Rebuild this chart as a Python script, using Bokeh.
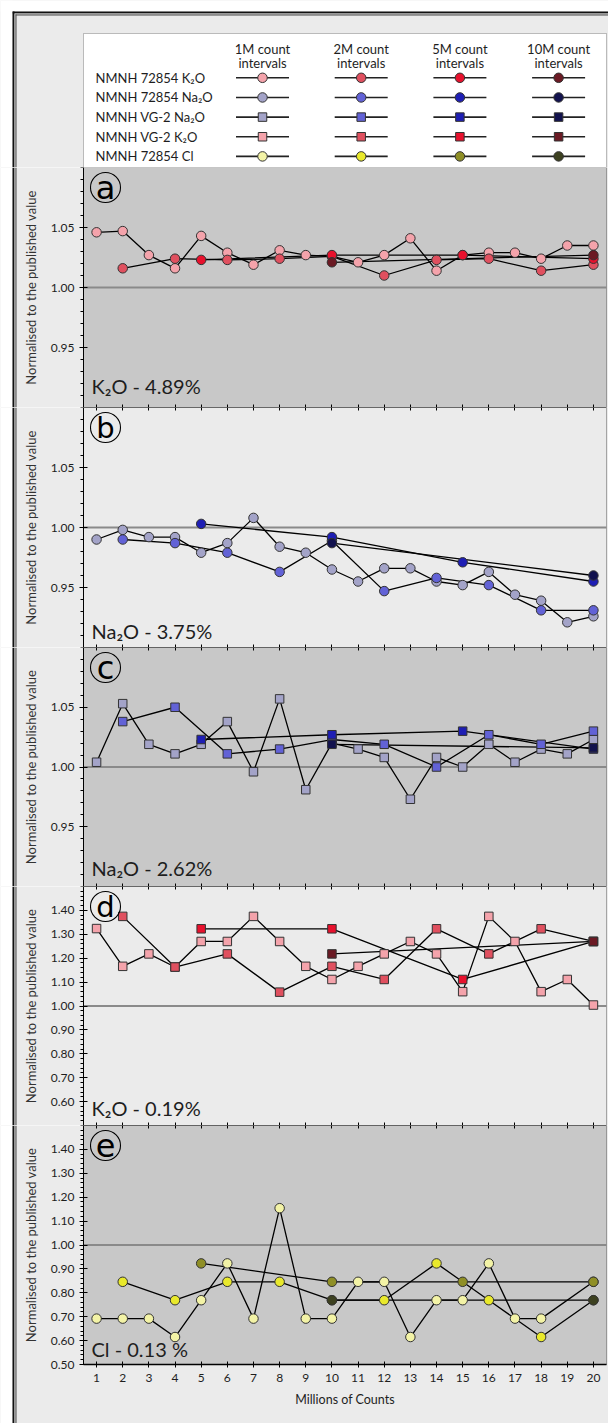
from bokeh.plotting import figure
from bokeh.layouts import column
from bokeh.models import Range1d, LinearAxis, FixedTicker, BoxAnnotation, PrintfTickFormatter
from bokeh.core.properties import value
from bokeh.embed import file_html
from bokeh.resources import INLINE

FONT = "Lato"
LETTER_FONT = "DejaVu Sans"
TXT = "#1e1e1e"

# ------------------------------------------------------------------ data
interval_names = ["1M count", "2M count", "5M count", "10M count"]
interval_sub = ["intervals", "intervals", "intervals", "intervals"]
legend_rows = ["NMNH 72854 K\u2082O", "NMNH 72854 Na\u2082O", "NMNH VG-2 Na\u2082O",
               "NMNH VG-2 K\u2082O", "NMNH 72854 Cl"]

x_1m = [1, 2, 3, 4, 5, 6, 7, 8, 9, 10, 11, 12, 13, 14, 15, 16, 17, 18, 19, 20]
x_2m = [2, 4, 6, 8, 10, 12, 14, 16, 18, 20]
x_5m = [5, 10, 15, 20]
x_10m = [10, 20]
x_1m_cl = [1, 2, 3, 4, 5, 6, 7, 8, 9, 10, 11, 12, 13, 14, 15, 16, 17, 18, 20]

# (a) NMNH 72854 K2O
a_1m = [1.046, 1.047, 1.027, 1.016, 1.043, 1.029, 1.019, 1.031, 1.027, 1.026,
        1.021, 1.027, 1.041, 1.014, 1.027, 1.029, 1.029, 1.024, 1.035, 1.035]
a_2m = [1.016, 1.024, 1.023, 1.024, 1.026, 1.010, 1.023, 1.024, 1.014, 1.019]
a_5m = [1.023, 1.027, 1.027, 1.024]
a_10m = [1.021, 1.027]

# (b) NMNH 72854 Na2O
b_1m = [0.990, 0.998, 0.992, 0.992, 0.979, 0.987, 1.008, 0.984, 0.979, 0.965,
        0.955, 0.966, 0.966, 0.955, 0.952, 0.963, 0.944, 0.939, 0.921, 0.926]
b_2m = [0.990, 0.987, 0.979, 0.963, 0.989, 0.947, 0.958, 0.952, 0.931, 0.931]
b_5m = [1.003, 0.992, 0.971, 0.955]
b_10m = [0.987, 0.960]

# (c) NMNH VG-2 Na2O
c_1m = [1.004, 1.053, 1.019, 1.011, 1.019, 1.038, 0.996, 1.057, 0.981, 1.020,
        1.015, 1.008, 0.973, 1.008, 1.000, 1.019, 1.004, 1.015, 1.011, 1.023]
c_2m = [1.038, 1.050, 1.011, 1.015, 1.023, 1.019, 1.000, 1.027, 1.019, 1.030]
c_5m = [1.023, 1.027, 1.030, 1.015]
c_10m = [1.019, 1.016]

# (d) NMNH VG-2 K2O
d_1m = [1.324, 1.166, 1.218, 1.163, 1.270, 1.270, 1.375, 1.270, 1.166, 1.111,
        1.166, 1.218, 1.270, 1.218, 1.060, 1.375, 1.270, 1.060, 1.111, 1.004]
d_2m = [1.375, 1.163, 1.218, 1.058, 1.166, 1.111, 1.323, 1.218, 1.323, 1.270]
d_5m = [1.323, 1.323, 1.111, 1.270]
d_10m = [1.218, 1.270]

# (e) NMNH 72854 Cl
e_1m = [0.692, 0.692, 0.692, 0.615, 0.769, 0.923, 0.692, 1.154, 0.692, 0.692,
        0.846, 0.846, 0.615, 0.769, 0.769, 0.923, 0.692, 0.692, 0.846]
e_2m = [0.846, 0.769, 0.846, 0.846, 0.769, 0.769, 0.923, 0.769, 0.615, 0.769]
e_5m = [0.923, 0.846, 0.846, 0.846]
e_10m = [0.769, 0.769]

panel_letters = ["a", "b", "c", "d", "e"]
panel_notes = ["K\u2082O - 4.89%", "Na\u2082O - 3.75%", "Na\u2082O - 2.62%",
               "K\u2082O - 0.19%", "Cl - 0.13 %"]

x_ticks = [1, 2, 3, 4, 5, 6, 7, 8, 9, 10, 11, 12, 13, 14, 15, 16, 17, 18, 19, 20]
ticks_fine = [0.95, 1.00, 1.05]
minor_fine = [0.90, 0.91, 0.92, 0.93, 0.94, 0.95, 0.96, 0.97, 0.98, 0.99, 1.00,
              1.01, 1.02, 1.03, 1.04, 1.05, 1.06, 1.07, 1.08, 1.09, 1.10]
ticks_d = [0.60, 0.70, 0.80, 0.90, 1.00, 1.10, 1.20, 1.30, 1.40]
ticks_e = [0.50, 0.60, 0.70, 0.80, 0.90, 1.00, 1.10, 1.20, 1.30, 1.40]
minor_coarse = [round(0.50 + 0.02 * i, 2) for i in range(51)]

# colours (1M, 2M, 5M, 10M)
reds = ["#f4a3ab", "#e0505f", "#e8112d", "#6b1a24"]
blues = ["#a3a3c8", "#6262d6", "#1e1eb4", "#12124e"]
yellows = ["#f3f3a6", "#e9e92c", "#8f8f26", "#3d4120"]

legend_palettes = [reds, blues, blues, reds, yellows]
legend_markers = ["circle", "circle", "square", "square", "circle"]

xs_std = [x_1m, x_2m, x_5m, x_10m]
xs_cl = [x_1m_cl, x_2m, x_5m, x_10m]

panels = [
    dict(ys=[a_1m, a_2m, a_5m, a_10m], xs=xs_std, rng=(0.9, 1.1), ticks=ticks_fine,
         minor=minor_fine, bg="#c8c8c8", pal=reds, marker="circle", note_px=16, h=240),
    dict(ys=[b_1m, b_2m, b_5m, b_10m], xs=xs_std, rng=(0.9, 1.1), ticks=ticks_fine,
         minor=minor_fine, bg="#ebebeb", pal=blues, marker="circle", note_px=11, h=240),
    dict(ys=[c_1m, c_2m, c_5m, c_10m], xs=xs_std, rng=(0.9, 1.1), ticks=ticks_fine,
         minor=minor_fine, bg="#c8c8c8", pal=blues, marker="square", note_px=13, h=239),
    dict(ys=[d_1m, d_2m, d_5m, d_10m], xs=xs_std, rng=(0.5, 1.5), ticks=ticks_d,
         minor=minor_coarse, bg="#ebebeb", pal=reds, marker="square", note_px=12, h=239),
    dict(ys=[e_1m, e_2m, e_5m, e_10m], xs=xs_cl, rng=(0.5, 1.5), ticks=ticks_e,
         minor=minor_coarse, bg="#c8c8c8", pal=yellows, marker="circle", note_px=10, h=239),
]

# ------------------------------------------------------------------ layout constants
TOTAL_H = 1423
FIG_W = 608
PLOT_L = 83           # px from figure left to plot area
PLOT_W = 523          # plot area width
X_LO, X_HI = 0.5, 20.5
SX = PLOT_W / (X_HI - X_LO)
X_START = X_LO - PLOT_L / SX
X_END = X_START + FIG_W / SX
LEG_H = 167
PAGE_BG = "#ebebeb"
BLACK = "#111111"
LIGHT = "#b4b4b4"
DARK = "#4a4a4a"
FL = 12               # left frame line position (px)
FT = 11               # top frame line position (px)


def box(p, l, r, b, t, color, level="underlay", line=None):
    p.add_layout(BoxAnnotation(left=l, right=r, bottom=b, top=t, fill_color=color,
                               fill_alpha=1, line_color=line, line_width=1, level=level))


def left_frame(p, px2x, y0, y1, top=None):
    """double border line at the left edge (the top part handled by `top`)"""
    box(p, px2x(0), px2x(FL), y0, y1, "white")
    box(p, px2x(FL), px2x(FL + 2), y0, y1 if top is None else top(FT), BLACK)
    box(p, px2x(FL + 2), px2x(FL + 3), y0, y1 if top is None else top(FT + 2), LIGHT)
    box(p, px2x(FL + 3), px2x(FL + 4), y0, y1 if top is None else top(FT + 3), DARK)


# ---- legend figure (pixel-like coordinates)
leg = figure(width=FIG_W, height=LEG_H, x_range=Range1d(0, FIG_W), y_range=Range1d(0, LEG_H),
             toolbar_location=None, output_backend="svg", x_axis_location=None,
             y_axis_location=None, min_border=0, title=None,
             background_fill_color=PAGE_BG, border_fill_color="white", outline_line_color=None)
leg.grid.visible = False
box(leg, 0, FIG_W, LEG_H - FT, LEG_H, "white")
box(leg, FL, FIG_W, LEG_H - FT - 2, LEG_H - FT, BLACK)
box(leg, FL + 2, FIG_W, LEG_H - FT - 3, LEG_H - FT - 2, LIGHT)
box(leg, FL + 3, FIG_W, LEG_H - FT - 4, LEG_H - FT - 3, DARK)
left_frame(leg, lambda v: v, 0, LEG_H, top=lambda d: LEG_H - d)
box(leg, PLOT_L, PLOT_L + PLOT_W, 0, LEG_H - 33, "white", line="#333333")

col_x = [262 + j * 98.7 for j in range(len(interval_names))]
row_y = [89.7 - i * 19.65 for i in range(len(legend_rows))]

leg.text(x=col_x, y=[119] * 4, text=interval_names, text_font=value(FONT),
         text_font_size="13px", text_align="center", text_baseline="middle", text_color=TXT)
leg.text(x=col_x, y=[105] * 4, text=interval_sub, text_font=value(FONT),
         text_font_size="13px", text_align="center", text_baseline="middle", text_color=TXT)
leg.text(x=[95] * len(legend_rows), y=row_y, text=legend_rows, text_font=value(FONT),
         text_font_size="13px", text_align="left", text_baseline="middle", text_color=TXT)
for i, yy in enumerate(row_y):
    for j, xx in enumerate(col_x):
        leg.segment(x0=[xx - 26.5], y0=[yy], x1=[xx + 26.5], y1=[yy], line_color="#222222",
                    line_width=1.6)
        mk = legend_markers[i]
        leg.scatter(x=[xx], y=[yy], marker=mk, size=9.5 if mk == "circle" else 8.5,
                    fill_color=legend_palettes[i][j], line_color="#333333", line_width=1)

children = [leg]
used_h = LEG_H + sum(s["h"] for s in panels[:-1])

for k, spec in enumerate(panels):
    last = k == len(panels) - 1
    lo, hi = spec["rng"]
    ph = spec["h"]
    fig_h = (TOTAL_H - used_h) if last else ph
    sy = ph / (hi - lo)
    y_start = hi - fig_h / sy
    p = figure(width=FIG_W, height=fig_h, x_range=Range1d(X_START, X_END),
               y_range=Range1d(y_start, hi), x_axis_location=None, y_axis_location=None,
               toolbar_location=None, output_backend="svg", title=None, min_border=0,
               background_fill_color=PAGE_BG, border_fill_color=PAGE_BG,
               outline_line_color=None)
    p.grid.visible = False

    px2x = lambda v: X_START + v / SX
    left_frame(p, px2x, y_start, hi)
    # plot area background + outline
    box(p, X_LO, X_HI, lo, hi, spec["bg"], line="black")

    ya = LinearAxis(fixed_location=X_LO, bounds=(lo, hi),
                    ticker=FixedTicker(ticks=spec["ticks"], minor_ticks=spec["minor"]),
                    formatter=PrintfTickFormatter(format="%.2f"),
                    major_tick_in=4, major_tick_out=4, minor_tick_in=0, minor_tick_out=3,
                    major_tick_line_color="black", minor_tick_line_color="black",
                    axis_line_color="black", major_label_standoff=5,
                    major_label_text_font=FONT, major_label_text_font_size="12px",
                    major_label_text_color=TXT,
                    axis_label="Normalised to the published value",
                    axis_label_text_font=FONT, axis_label_text_font_size="13px",
                    axis_label_text_font_style="normal", axis_label_text_color="#333333",
                    axis_label_standoff=9)
    p.add_layout(ya, "left")

    blank = {t: "" for t in x_ticks}
    if not last:
        xb = LinearAxis(fixed_location=lo, bounds=(X_LO, X_HI),
                        ticker=FixedTicker(ticks=x_ticks, minor_ticks=[]),
                        major_tick_in=3, major_tick_out=0, minor_tick_in=0, minor_tick_out=0,
                        major_label_overrides=blank, axis_line_color="black",
                        major_tick_line_color="black")
    else:
        xb = LinearAxis(fixed_location=lo, bounds=(X_LO, X_HI),
                        ticker=FixedTicker(ticks=x_ticks, minor_ticks=[]),
                        major_tick_in=3, major_tick_out=3, minor_tick_in=0, minor_tick_out=0,
                        axis_line_color="black", axis_line_width=1.5,
                        major_tick_line_color="black",
                        major_label_standoff=6, major_label_text_font=FONT,
                        major_label_text_font_size="12px", major_label_text_color=TXT,
                        axis_label="Millions of Counts", axis_label_text_font=FONT,
                        axis_label_text_font_size="12.5px", axis_label_text_font_style="normal",
                        axis_label_text_color=TXT, axis_label_standoff=7)
    p.add_layout(xb, "below")
    if k > 0:
        xt = LinearAxis(fixed_location=hi, bounds=(X_LO, X_HI),
                        ticker=FixedTicker(ticks=x_ticks, minor_ticks=[]),
                        major_tick_in=3, major_tick_out=0, minor_tick_in=0, minor_tick_out=0,
                        major_label_overrides=blank, axis_line_color="black",
                        major_tick_line_color="black")
        p.add_layout(xt, "above")

    # reference line at 1.00 across the plot area
    p.segment(x0=[X_LO], x1=[X_HI], y0=[1.0], y1=[1.0], line_color="#8a8a8a", line_width=2.2)

    for xs, ys in zip(spec["xs"], spec["ys"]):
        p.line(xs, ys, line_color="black", line_width=1.3)
    for xs, ys, col in zip(spec["xs"], spec["ys"], spec["pal"]):
        p.scatter(xs, ys, marker=spec["marker"],
                  size=9.5 if spec["marker"] == "circle" else 8.5,
                  fill_color=col, line_color="#333333", line_width=1)

    # circled panel letter
    xc = X_LO + 22 / SX
    yc = hi - 20 / sy
    p.scatter([xc], [yc], marker="circle", size=30, fill_color=None, line_color="black",
              line_width=1.1)
    letter = panel_letters[k]
    tall = letter in ("b", "d")
    p.text(x=[xc], y=[yc], text=[letter], text_font=value(LETTER_FONT),
           text_font_size="29px" if tall else "32px", text_align="center",
           text_baseline="middle", text_color="black")
    # element / concentration note
    p.text(x=[X_LO + 8 / SX], y=[lo + spec["note_px"] / sy], text=[panel_notes[k]],
           text_font=value(FONT), text_font_size="20px", text_align="left",
           text_baseline="alphabetic", y_offset=-6, text_color=TXT)
    children.append(p)

layout = column(*children, spacing=0)
open("out.html", "w").write(file_html(layout, INLINE))
